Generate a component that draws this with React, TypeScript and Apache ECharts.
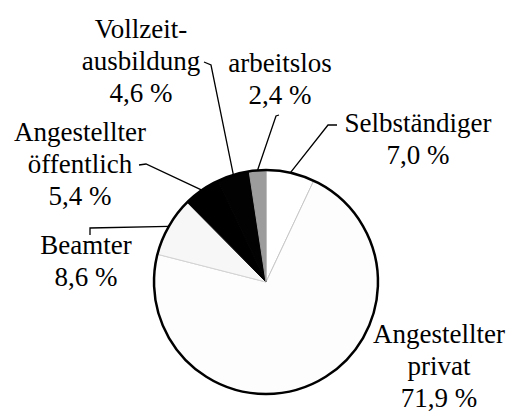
import React, { useEffect, useRef } from "react";
import * as echarts from "echarts";

const categories = [
  "Selbständiger",
  "Angestellter\nprivat",
  "Beamter",
  "Angestellter\nöffentlich",
  "Vollzeit-\nausbildung",
  "arbeitslos",
];
const shares = [7.0, 71.9, 8.6, 5.4, 4.6, 2.4];
const sliceColors = ["#ffffff", "#fdfdfd", "#f7f7f7", "#000000", "#020202", "#9c9c9c"];
const sliceBorders = ["#c8c8c8", "#c8c8c8", "#d4d4d4", "#000000", "#020202", "#9c9c9c"];

// label block centres [x, y]
const labelCenters = [
  [418, 139],
  [439, 366],
  [86, 261],
  [80, 164],
  [141, 61],
  [280, 79],
];
// leader-line bend and end points (label side)
const leaderBends = [
  [[328, 125], [337, 125]],
  null,
  [[90, 228], [90, 235]],
  [[146, 164], [139, 165]],
  [[211, 65], [204, 62]],
  [[276, 116], [279, 115]],
];

const FONT = "Liberation Serif";

export default function App() {
  const ref = useRef<HTMLDivElement>(null);
  useEffect(() => {
    document.body.style.margin = "0";
    const chart = echarts.init(ref.current!, null, { renderer: "svg" });
    chart.setOption({
      animation: false,
      backgroundColor: "#ffffff",
      textStyle: { fontFamily: FONT },
      series: [
        {
          type: "pie",
          center: [266, 282],
          radius: 112,
          startAngle: 90,
          clockwise: true,
          avoidLabelOverlap: false,
          silent: true,
          data: categories.map((name, i) => ({
            name,
            value: shares[i],
            itemStyle: { color: sliceColors[i], borderColor: sliceBorders[i], borderWidth: 1 },
            labelLine: { show: leaderBends[i] !== null },
          })),
          label: {
            show: true,
            position: "outside",
            color: "#000",
            fontFamily: FONT,
            fontSize: 27,
            lineHeight: 32,
            formatter: (p: any) => `${p.name}\n${p.value.toFixed(1).replace(".", ",")} %`,
          },
          labelLine: {
            show: true,
            lineStyle: { color: "#000", width: 1.3 },
          },
          labelLayout: (params: any) => {
            const i = params.dataIndex;
            const c = labelCenters[i];
            const res: any = { x: c[0], y: c[1], align: "center", verticalAlign: "middle" };
            const b = leaderBends[i];
            if (b && params.labelLinePoints) {
              res.labelLinePoints = [params.labelLinePoints[0], b[0], b[1]];
            }
            return res;
          },
        },
        {
          type: "pie",
          center: [266, 282],
          radius: 112,
          silent: true,
          label: { show: false },
          labelLine: { show: false },
          data: [{ value: 1, name: "outline" }],
          itemStyle: { color: "transparent", borderColor: "#000", borderWidth: 2.5 },
        },
      ],
    });
    return () => chart.dispose();
  }, []);
  return <div ref={ref} style={{ width: 509, height: 412 }} />;
}
